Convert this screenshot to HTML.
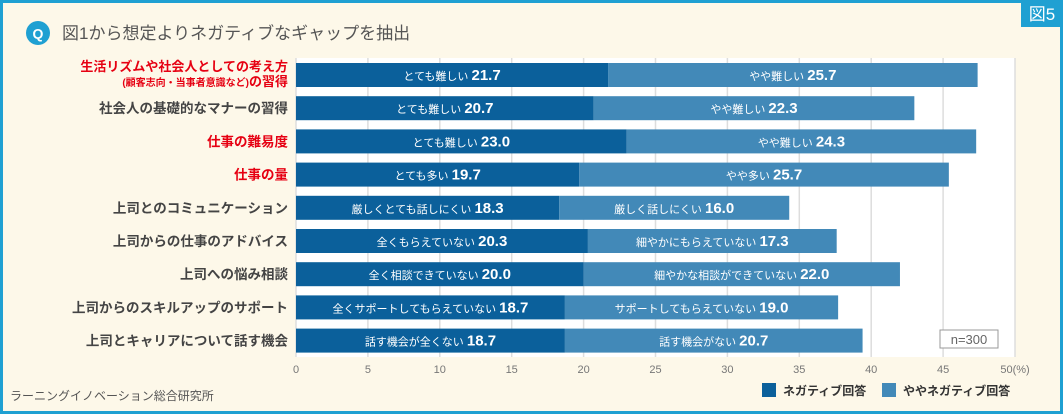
<!DOCTYPE html>
<html><head><meta charset="utf-8"><style>
body{margin:0;width:1063px;height:414px;overflow:hidden;background:#fff;}
#frame{position:absolute;left:0;top:0;width:1057px;height:408px;border:3px solid #1fa0d2;background:#fdf8e9;}
text{font-family:"Liberation Sans","Noto Sans CJK JP",sans-serif;}
</style></head><body>
<div id="frame"></div>
<svg id="chart" width="1063" height="414" style="position:absolute;left:0;top:0">
<rect x="1021" y="0" width="42" height="27" fill="#1fa0d2"/>
<text x="1042" y="20" text-anchor="middle" fill="#fff" font-size="17">図5</text>
<circle cx="38" cy="33" r="12" fill="#1fa0d2"/>
<text x="38" y="38.5" text-anchor="middle" fill="#fff" font-size="14" font-weight="bold">Q</text>
<text x="62" y="39" fill="#555" font-size="17">図1から想定よりネガティブなギャップを抽出</text>
<g id="plot"></g>
<rect x="940" y="330" width="58" height="18" fill="#fff" stroke="#999"/>
<text x="969" y="344" text-anchor="middle" fill="#666" font-size="13">n=300</text>
<rect x="762" y="383" width="14" height="14" fill="#0b609b"/>
<text x="783" y="395" fill="#333" font-size="12" font-weight="bold">ネガティブ回答</text>
<rect x="882" y="383" width="14" height="14" fill="#4289b8"/>
<text x="903" y="395" fill="#333" font-size="12" font-weight="bold">ややネガティブ回答</text>
<text x="10" y="400" fill="#555" font-size="12">ラーニングイノベーション総合研究所</text>
</svg>
<script>
const categories=["生活リズムや社会人としての考え方","社会人の基礎的なマナーの習得","仕事の難易度","仕事の量","上司とのコミュニケーション","上司からの仕事のアドバイス","上司への悩み相談","上司からのスキルアップのサポート","上司とキャリアについて話す機会"];
const highlight=[true,false,true,true,false,false,false,false,false];
const negValues=[21.7,20.7,23.0,19.7,18.3,20.3,20.0,18.7,18.7];
const someValues=[25.7,22.3,24.3,25.7,16.0,17.3,22.0,19.0,20.7];
const negLabels=["とても難しい","とても難しい","とても難しい","とても多い","厳しくとても話しにくい","全くもらえていない","全く相談できていない","全くサポートしてもらえていない","話す機会が全くない"];
const someLabels=["やや難しい","やや難しい","やや難しい","やや多い","厳しく話しにくい","細やかにもらえていない","細やかな相談ができていない","サポートしてもらえていない","話す機会がない"];
const ticks=[0,5,10,15,20,25,30,35,40,45,50];
const NS="http://www.w3.org/2000/svg";
const g=document.getElementById('plot');
const X0=296,X1=1015,PT=58,PB=357,maxV=50;
const x=v=>X0+(X1-X0)*v/maxV;
const rowH=33.2, y=i=>PT+17+i*rowH;
function mk(t,a,txt){const e=document.createElementNS(NS,t);for(const k in a)e.setAttribute(k,a[k]);if(txt!=null)e.textContent=txt;g.appendChild(e);return e;}
let bg=mk('rect',{x:X0,y:PT,width:X1-X0,height:PB-PT,fill:'#fff'});


ticks.forEach(t=>{
 let l=mk('line',{x1:x(t),x2:x(t),y1:PT,y2:PB,stroke:'#ddd','stroke-width':1.5});
 
 
 let tx=mk('text',{x:x(t),y:373,'text-anchor':'middle','font-size':11,fill:'#777'},t===50?'50(%)':String(t));
 
 
});
categories.forEach((c,i)=>{
 const cy=y(i),h=24;
 let col=highlight[i]?'#e60012':'#444';
 if(i===0){
  let a=mk('text',{x:288,y:cy-4,'text-anchor':'end','font-size':13,'font-weight':'bold',fill:col},c);
  
  
  let b=mk('text',{x:288,y:cy+11,'text-anchor':'end','font-size':13,'font-weight':'bold',fill:col},'');
  b.innerHTML='<tspan font-size="10">(顧客志向・当事者意識など)</tspan>の習得';
  
  
 } else {
  let a=mk('text',{x:288,y:cy+5,'text-anchor':'end','font-size':13.5,'font-weight':'bold',fill:col},c);
  
  
 }
 let r1=mk('rect',{x:x(0),y:cy-h/2,width:x(negValues[i])-x(0),height:h,fill:'#0b609b'});
 
 
 let r2=mk('rect',{x:x(negValues[i]),y:cy-h/2,width:x(negValues[i]+someValues[i])-x(negValues[i]),height:h,fill:'#4289b8'});
 
 
 let t1=mk('text',{x:(x(0)+x(negValues[i]))/2,y:cy+5,'text-anchor':'middle',fill:'#fff','font-size':11},'');
 t1.innerHTML=negLabels[i]+' <tspan font-size="15" font-weight="bold">'+negValues[i].toFixed(1)+'</tspan>';
 
 
 let t2=mk('text',{x:(x(negValues[i])+x(negValues[i]+someValues[i]))/2,y:cy+5,'text-anchor':'middle',fill:'#fff','font-size':11},'');
 t2.innerHTML=someLabels[i]+' <tspan font-size="15" font-weight="bold">'+someValues[i].toFixed(1)+'</tspan>';
 
 
});
</script>
</body></html>
